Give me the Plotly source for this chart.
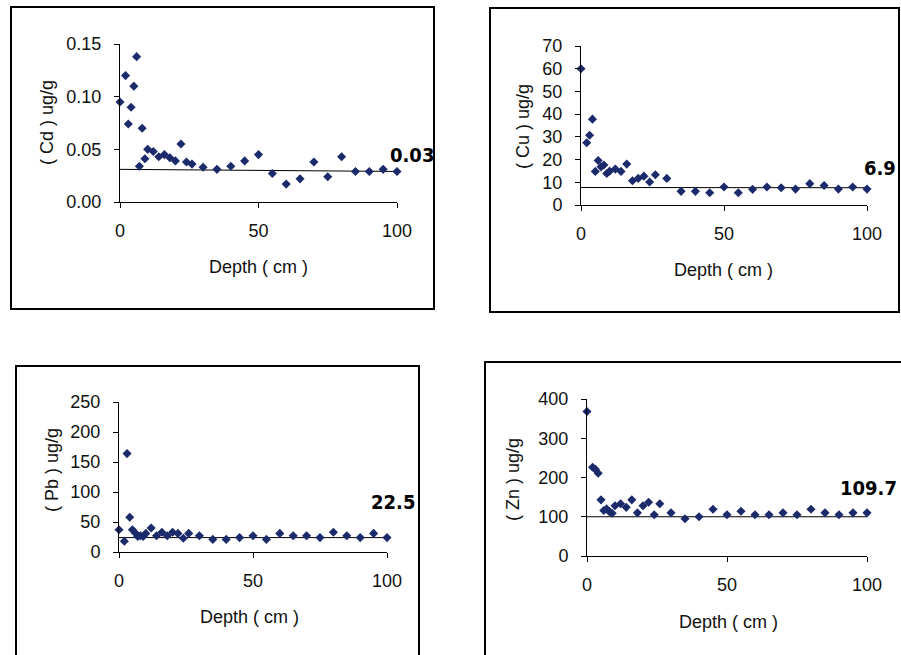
import plotly.graph_objects as go

depth = [0, 2, 3, 4, 5, 6, 7, 8, 9, 10, 12, 14, 16, 18, 20, 22, 24, 26, 30,
         35, 40, 45, 50, 55, 60, 65, 70, 75, 80, 85, 90, 95, 100]

cd = [0.095, 0.120, 0.074, 0.090, 0.110, 0.138, 0.034, 0.070, 0.041, 0.050,
      0.048, 0.043, 0.045, 0.042, 0.039, 0.055, 0.038, 0.036, 0.033,
      0.031, 0.034, 0.039, 0.045, 0.027, 0.017, 0.022, 0.038, 0.024, 0.043,
      0.029, 0.029, 0.031, 0.029]

cu = [60.0, 27.4, 30.7, 37.8, 14.8, 19.6, 16.8, 17.6, 13.9, 14.9,
      15.8, 14.8, 18.0, 10.7, 11.7, 12.7, 10.1, 13.3, 11.7,
      6.0, 6.0, 5.4, 7.9, 5.4, 6.9, 7.9, 7.6, 7.0, 9.4, 8.6, 7.0, 7.9, 7.0]

pb = [37, 18, 164, 58, 37, 32, 26, 27, 26, 31,
      40, 27, 33, 27, 33, 31, 23, 31, 27,
      21, 21, 24, 27, 21, 31, 27, 27, 24, 33, 27, 24, 31, 24]

zn = [368, 226, 221, 211, 143, 116, 120, 113, 109, 128,
      133, 124, 143, 110, 128, 137, 105, 133, 110,
      95, 100, 119, 105, 114, 105, 105, 110, 105, 119, 110, 105, 110, 110]

# reference lines (value at 0 cm and at 100 cm)
cd_line = [0.031, 0.029]
cu_line = [7.7, 7.6]
pb_line = [24, 24]
zn_line = [100, 100]
line_x = [0, 100]

labels = ["0.03", "6.9", "22.5", "109.7"]
y_titles = ["( Cd ) ug/g", "( Cu ) ug/g", "( Pb ) ug/g", "( Zn ) ug/g"]
x_title = "Depth ( cm )"

W, H = 901, 655
def px(x): return x / W
def py(y): return 1 - y / H

MARK = "#1b2a6b"
FONT = "Liberation Sans, Arial, sans-serif"
LABFONT = "DejaVu Sans Condensed, Liberation Sans Narrow, Arial Narrow, sans-serif"
TICK = 18
TITLE = 18

panels = [
    dict(v=cd, l=cd_line, yr=[0, 0.15], dt=0.05, tf=".2f", box=(120, 397, 44, 202),
         frame=(11, 434, 7, 309), ytx=(47, 123), xtx=(258, 267), lab=(412, 155)),
    dict(v=cu, l=cu_line, yr=[0, 70], dt=10, tf="d", box=(581, 867, 46, 205),
         frame=(490, 899, 8, 312), ytx=(523, 127), xtx=(723, 270), lab=(880, 168)),
    dict(v=pb, l=pb_line, yr=[0, 250], dt=50, tf="d", box=(119, 387, 402, 552),
         frame=(16, 419, 366, 662), ytx=(52, 470), xtx=(250, 617), lab=(393, 502)),
    dict(v=zn, l=zn_line, yr=[0, 400], dt=100, tf="d", box=(587, 867, 399, 556),
         frame=(485, 910, 362, 662), ytx=(513, 480), xtx=(728, 622), lab=(868, 488)),
]

fig = go.Figure()
layout = dict(width=W, height=H, margin=dict(l=0, r=0, t=0, b=0, pad=0),
              paper_bgcolor="white", plot_bgcolor="white", showlegend=False,
              font=dict(family=FONT, size=TICK, color="#111"))
shapes, annotations = [], []

for i, p in enumerate(panels):
    n = "" if i == 0 else str(i + 1)
    xa, ya = "x" + n, "y" + n
    fig.add_trace(go.Scatter(x=line_x, y=p["l"], mode="lines",
                             line=dict(color="black", width=1),
                             xaxis=xa, yaxis=ya, cliponaxis=False, hoverinfo="skip"))
    fig.add_trace(go.Scatter(x=depth, y=p["v"], mode="markers",
                             marker=dict(symbol="diamond", size=7, color=MARK),
                             xaxis=xa, yaxis=ya, cliponaxis=False))
    x0, x1, yt, yb = p["box"]
    layout["xaxis" + n] = dict(domain=[px(x0), px(x1)], range=[0, 100], dtick=50,
                               anchor=ya, showline=True, linecolor="black", linewidth=1,
                               ticks="outside", ticklen=5, tickcolor="black",
                               showgrid=False, zeroline=False, ticklabelstandoff=7,
                               automargin=False,
                               tickfont=dict(size=TICK, family=FONT, color="#111"))
    layout["yaxis" + n] = dict(domain=[py(yb), py(yt)], range=p["yr"], dtick=p["dt"],
                               tickformat=p["tf"], anchor=xa, showline=True,
                               linecolor="black", linewidth=1, ticks="outside",
                               ticklen=5, tickcolor="black", showgrid=False,
                               zeroline=False, ticklabelstandoff=9, automargin=False,
                               tickfont=dict(size=TICK, family=FONT, color="#111"))
    fx0, fx1, fy0, fy1 = p["frame"]
    shapes.append(dict(type="rect", xref="paper", yref="paper",
                       x0=px(fx0), x1=px(fx1), y0=py(fy1), y1=py(fy0),
                       line=dict(color="black", width=2)))
    annotations.append(dict(text=y_titles[i], xref="paper", yref="paper",
                            x=px(p["ytx"][0]), y=py(p["ytx"][1]), textangle=-90,
                            showarrow=False, xanchor="center", yanchor="middle",
                            font=dict(size=TITLE, family=FONT, color="#111")))
    annotations.append(dict(text=x_title, xref="paper", yref="paper",
                            x=px(p["xtx"][0]), y=py(p["xtx"][1]),
                            showarrow=False, xanchor="center", yanchor="middle",
                            font=dict(size=TITLE, family=FONT, color="#111")))
    annotations.append(dict(text="<b>" + labels[i] + "</b>", xref="paper", yref="paper",
                            x=px(p["lab"][0]), y=py(p["lab"][1]),
                            showarrow=False, xanchor="center", yanchor="middle",
                            font=dict(size=20, color="black", family=LABFONT)))

layout["shapes"] = shapes
layout["annotations"] = annotations
fig.update_layout(**layout)
fig.write_html("out.html", config={"displayModeBar": False},
               post_script="document.body.style.margin='0';")
